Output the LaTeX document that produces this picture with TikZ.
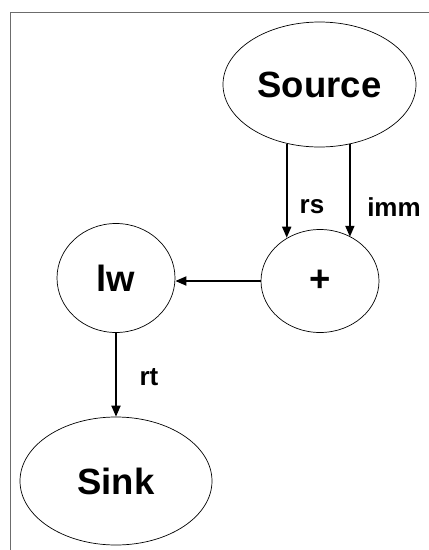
\documentclass[tikz,border=0pt]{standalone}
\usepackage{fontspec}
\setmainfont{Liberation Sans}
\usetikzlibrary{arrows.meta,shapes.geometric}
\begin{document}
\begin{tikzpicture}[x=1pt,y=-1pt,
  bubble/.style={ellipse,draw=black,line width=0.7pt,inner sep=0pt,
    font=\fontsize{36.5}{40}\selectfont\bfseries},
  flow/.style={line width=1.8pt,-{Triangle[length=11pt,width=9pt]}},
  elabel/.style={font=\fontsize{26}{29}\selectfont\bfseries,inner sep=0pt}]
\useasboundingbox (0,0) rectangle (429,550);
\fill[white] (0,0) rectangle (429,550);
\draw[gray!85!black,line width=1pt] (10,550) -- (10,12) -- (429,12);
\node[bubble,minimum width=193pt,minimum height=125pt] (src) at (319.5,84.5) {Source};
\node[bubble,minimum width=118pt,minimum height=103pt] (plus) at (320,281) {+};
\node[bubble,minimum width=118pt,minimum height=109pt] (lw) at (116,278) {lw};
\node[bubble,minimum width=192pt,minimum height=128pt] (sink) at (116,481) {Sink};
\draw[flow] (src.241) -- (src.241 |- plus.127.7);
\draw[flow] (src.297.2) -- (src.297.2 |- plus.55.9);
\draw[flow] (plus.west) -- (plus.west -| lw.east);
\draw[flow] (lw.south) -- (sink.north);
\node[elabel] (lrs) at (312,207) {rs};
\node[elabel] (limm) at (394,207) {imm};
\node[elabel] (lrt) at (149,377) {rt};
\end{tikzpicture}
\end{document}
